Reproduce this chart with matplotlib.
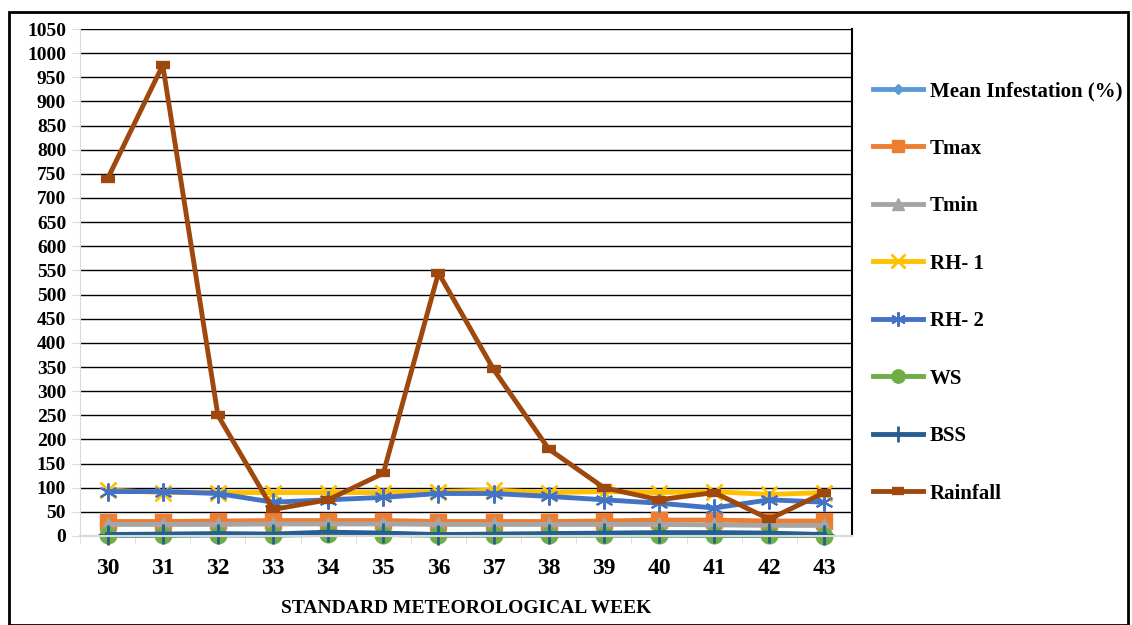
import matplotlib.pyplot as plt
from matplotlib.patches import Rectangle

weeks = [30, 31, 32, 33, 34, 35, 36, 37, 38, 39, 40, 41, 42, 43]
mean_inf = [1, 1, 2, 2, 3, 3, 2, 2, 2, 2, 2, 1, 1, 1]
tmax = [30, 30, 31, 32, 32, 32, 30, 30, 30, 31, 33, 33, 31, 31]
tmin = [24, 24, 24, 25, 25, 25, 24, 24, 24, 24, 24, 23, 22, 22]
rh1 = [95, 90, 90, 90, 90, 90, 92, 95, 90, 92, 90, 92, 86, 90]
rh2 = [92, 92, 88, 70, 75, 80, 88, 88, 82, 75, 68, 58, 75, 70]
ws = [2, 2, 3, 2, 4, 3, 2, 2, 2, 2, 2, 2, 2, 1]
bss = [3, 4, 5, 4, 8, 6, 3, 4, 5, 6, 7, 7, 6, 3]
rainfall = [740, 975, 250, 55, 75, 130, 545, 345, 180, 100, 75, 90, 35, 90]

plt.rcParams['font.family'] = ['Liberation Serif', 'DejaVu Serif']
plt.rcParams['font.weight'] = 'bold'

fig = plt.figure(figsize=(11.32, 6.25), dpi=100)
ax = fig.add_axes([0.0707, 0.1424, 0.682, 0.8112])

lw = 3.5
ax.plot(weeks, mean_inf, color='#5b9bd5', marker='D', ms=7, lw=lw, label='Mean Infestation (%)', clip_on=False)
ax.plot(weeks, tmax, color='#ed7d31', marker='s', ms=11, lw=lw, label='Tmax', clip_on=False)
ax.plot(weeks, tmin, color='#a5a5a5', marker='^', ms=10, lw=lw, label='Tmin', clip_on=False)
ax.plot(weeks, rh1, color='#ffc000', marker='x', ms=12, mew=2, lw=lw, label='RH- 1')
ax.plot(weeks, rh2, color='#4472c4', marker=(6, 2, 0), ms=13, mew=1.5, lw=lw, label='RH- 2')
ax.plot(weeks, ws, color='#70ad47', marker='o', ms=12, lw=lw, label='WS', clip_on=False)
ax.plot(weeks, bss, color='#255e91', marker='+', ms=14, mew=2, lw=lw, label='BSS', clip_on=False)
ax.plot(weeks, rainfall, color='#9e480e', marker='_', ms=10, mew=6, lw=lw, label='Rainfall')

ax.set_xlim(29.5, 43.5)
ax.set_ylim(0, 1050)
ax.set_yticks(range(0, 1051, 50))
ax.set_xticks(weeks)
ax.set_xticks([w + 0.5 for w in weeks[:-1]] + [29.5], minor=True)
ax.tick_params(axis='x', which='major', length=0, labelsize=17, pad=16)
ax.tick_params(axis='x', which='minor', length=6, color='#d9d9d9', direction='out')
ax.tick_params(axis='y', length=6, color='#d9d9d9', labelsize=14, pad=4)
for lab in ax.get_xticklabels() + ax.get_yticklabels():
    lab.set_fontweight('bold')

ax.yaxis.grid(True, color='black', lw=1)
ax.set_axisbelow(True)
ax.spines['top'].set_visible(False)
ax.spines['left'].set_color('#d9d9d9')
ax.spines['bottom'].set_color('#d9d9d9')
ax.spines['bottom'].set_linewidth(1.5)
ax.spines['right'].set_color('black')
ax.spines['right'].set_linewidth(1.5)

ax.set_xlabel('STANDARD METEOROLOGICAL WEEK', fontsize=14, fontweight='bold', labelpad=15)

leg = fig.legend(loc='upper left', bbox_to_anchor=(0.755, 0.90), frameon=False,
                 prop={'size': 15, 'weight': 'bold'}, labelspacing=1.8,
                 handlelength=2.4, handletextpad=0.3, markerscale=0.8)

fig.patches.append(Rectangle((9 / 1132, 0.0), 1119 / 1132, 1 - 12 / 625, transform=fig.transFigure,
                             fill=False, edgecolor='black', lw=2))

fig.savefig('out.png', dpi=100)
